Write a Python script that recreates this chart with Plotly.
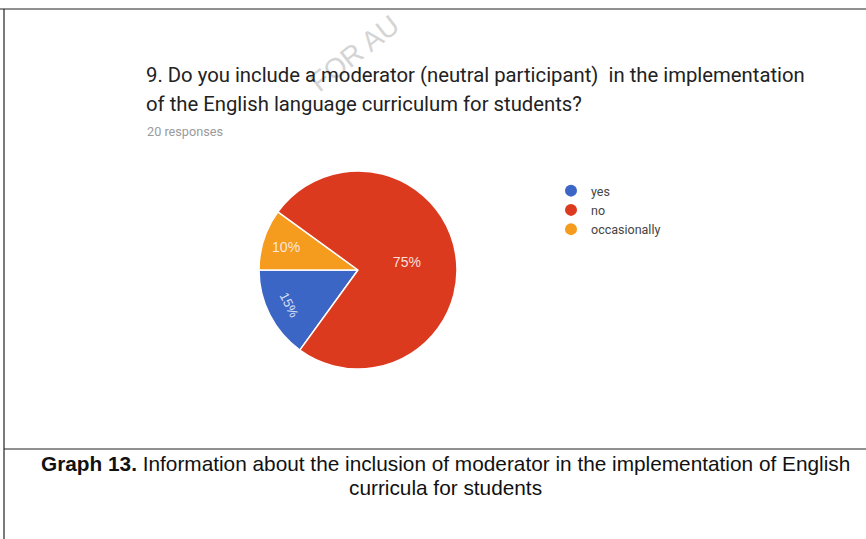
import plotly.graph_objects as go

# Survey answers (20 responses)
categories = ["yes", "no", "occasionally"]
shares = [15, 75, 10]
colors = ["#3c66c6", "#dc3a1f", "#f59b1d"]

question_line1 = "9. Do you include a moderator (neutral participant)  in the implementation"
question_line2 = "of the English language curriculum for students?"
responses_note = "20 responses"
caption_line1 = "<b>Graph 13.</b> Information about the inclusion of moderator in the implementation of English"
caption_line2 = "curricula for students"
watermark = "FOR AU"

W, H = 866, 539


def px(x):
    return x / W


def py(y):
    return 1 - y / H


# slices are laid out clockwise: yes, occasionally, no
pie_order = ["yes", "occasionally", "no"]
idx = [categories.index(c) for c in pie_order]
pie_labels = [categories[i] for i in idx]
pie_values = [shares[i] for i in idx]
pie_colors = [colors[i] for i in idx]
pie_text = [f"{v}%" for v in pie_values]
pie_domain = dict(x=[px(259), px(457)], y=[py(369), py(171)])

fig = go.Figure()

# main pie: horizontal labels for the two larger slices
fig.add_trace(go.Pie(
    labels=pie_labels,
    values=pie_values,
    sort=False,
    direction="clockwise",
    rotation=216,
    marker=dict(colors=pie_colors, line=dict(color="white", width=1.5)),
    text=["" if c == "yes" else t for c, t in zip(pie_labels, pie_text)],
    textinfo="text",
    textposition="inside",
    insidetextorientation="horizontal",
    insidetextfont=dict(family="Liberation Sans, Arial", size=14, color="rgba(255,240,235,0.92)"),
    domain=pie_domain,
    showlegend=False,
    hoverinfo="label+percent",
))

# overlay carrying the rotated label of the "yes" slice
fig.add_trace(go.Pie(
    labels=pie_labels,
    values=pie_values,
    sort=False,
    direction="clockwise",
    rotation=216,
    marker=dict(colors=["rgba(0,0,0,0)"] * 3, line=dict(width=0)),
    text=[t if c == "yes" else "" for c, t in zip(pie_labels, pie_text)],
    textinfo="text",
    textposition="inside",
    insidetextorientation="tangential",
    insidetextfont=dict(family="Liberation Sans, Arial", size=13, color="rgba(235,240,255,0.9)"),
    domain=pie_domain,
    showlegend=False,
    hoverinfo="skip",
))

# legend entries with round markers
for c, col in zip(categories, colors):
    fig.add_trace(go.Scatter(
        x=[None], y=[None], mode="markers", name=c,
        marker=dict(symbol="circle", size=12, color=col),
    ))

fig.update_xaxes(visible=False)
fig.update_yaxes(visible=False)

annotations = [
    dict(text=watermark, x=px(354), y=py(53), xanchor="center", yanchor="middle",
         textangle=-38, font=dict(family="Liberation Sans, Arial", size=28, color="#d4d4d4")),
    dict(text=question_line1, x=px(144), y=py(75), xanchor="left", yanchor="middle",
         font=dict(family="Roboto", size=20.3, color="#222222")),
    dict(text=question_line2, x=px(144), y=py(104), xanchor="left", yanchor="middle",
         font=dict(family="Roboto", size=20.3, color="#222222")),
    dict(text=responses_note, x=px(145), y=py(131), xanchor="left", yanchor="middle",
         font=dict(family="Roboto", size=12.7, color="#9a9a9a")),
    dict(text=caption_line1, x=0.515, y=py(463), xanchor="center", yanchor="middle",
         font=dict(family="Liberation Sans, Arial", size=20.8, color="#111111")),
    dict(text=caption_line2, x=0.515, y=py(487), xanchor="center", yanchor="middle",
         font=dict(family="Liberation Sans, Arial", size=20.8, color="#111111")),
]
for a in annotations:
    a.update(xref="paper", yref="paper", showarrow=False)

shapes = [
    dict(type="line", x0=0, x1=1, y0=py(9), y1=py(9)),
    dict(type="line", x0=px(4), x1=px(4), y0=py(9), y1=0),
    dict(type="line", x0=px(4), x1=1, y0=py(449), y1=py(449)),
]
for s in shapes:
    s.update(xref="paper", yref="paper", line=dict(color="#222222", width=1.2))

fig.update_layout(
    width=W, height=H,
    margin=dict(l=0, r=0, t=0, b=0),
    paper_bgcolor="white",
    plot_bgcolor="white",
    annotations=annotations,
    shapes=shapes,
    legend=dict(x=px(551), y=py(176), xanchor="left", yanchor="top",
                font=dict(family="Roboto", size=12.5, color="#444444"),
                bgcolor="rgba(0,0,0,0)", tracegroupgap=0, itemclick=False),
)

fig.write_html("out.html")
